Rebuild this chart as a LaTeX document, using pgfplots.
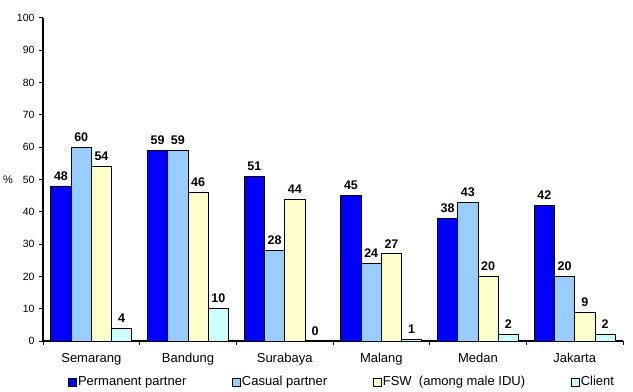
\documentclass[border=0pt]{standalone}
\usepackage{fontspec}
\setmainfont{Liberation Sans}
\usepackage{pgfplots}
\usepackage{pgfplotstable}
\pgfplotsset{compat=1.18}

\definecolor{permblue}{RGB}{0,0,255}
\definecolor{casualblue}{RGB}{153,204,255}
\definecolor{fswyellow}{RGB}{255,255,204}
\definecolor{clientcyan}{RGB}{204,255,255}

% Share of respondents (%) by partner type and city
\pgfplotstableread{
idx perm casual fsw client
0   48   60     54  4
1   59   59     46  10
2   51   28     44  0
3   45   24     27  0.6
4   38   43     20  2
5   42   20     9   2
}\partnerdata

\begin{document}
\begin{tikzpicture}
\begin{axis}[
  scale only axis,
  width=580bp, height=323bp,
  ybar=0pt, bar width=20.25bp,
  xmin=-0.5, xmax=5.5, ymin=0, ymax=100,
  axis x line*=bottom, axis y line*=left,
  axis line style={line width=1.5bp, black},
  tick style={line width=1bp, black},
  tick align=outside, major tick length=4bp,
  ytick={0,10,...,100},
  xtick={-0.5,0.5,...,5.5}, xticklabels={},
  extra x ticks={0,1,2,3,4,5},
  extra x tick labels={Semarang,Bandung,Surabaya,Malang,Medan,Jakarta},
  extra x tick style={tick style={draw=none},
    tick label style={font=\fontsize{13bp}{15bp}\selectfont, yshift=-5bp}},
  /pgf/number format/assume math mode=true,
  yticklabel style={font=\fontsize{10.5bp}{12bp}\selectfont, xshift=-1bp},
  ylabel={\%},
  ylabel style={at={(axis description cs:0,0.5)}, rotate=-90, anchor=center,
    xshift=-35bp, font=\fontsize{11bp}{13bp}\selectfont},
  nodes near coords={\pgfmathprintnumber[fixed,precision=0]{\pgfplotspointmeta}},
  nodes near coords style={font=\bfseries\fontsize{12.5bp}{14bp}\selectfont,
    text=black, yshift=2bp},
  every axis plot/.append style={draw=black, line width=0.7bp},
  legsq/.style={legend image code/.code={
    \draw[##1, line width=0.6bp] (0bp,-4bp) rectangle (8bp,4bp);}},
  legend columns=4,
  legend style={at={(0.515,0)}, anchor=center, yshift=-41bp,
    draw=none, fill=none, font=\fontsize{13bp}{15bp}\selectfont,
    nodes={inner sep=1bp},
    /tikz/every even column/.append style={column sep=45bp}},
]
\addplot[fill=permblue, legsq]   table[x=idx, y=perm]   {\partnerdata};
\addplot[fill=casualblue, legsq] table[x=idx, y=casual] {\partnerdata};
\addplot[fill=fswyellow, legsq]  table[x=idx, y=fsw]    {\partnerdata};
\addplot[fill=clientcyan, legsq] table[x=idx, y=client] {\partnerdata};
\legend{Permanent partner, Casual partner, FSW\ \ (among male IDU), Client}
\end{axis}
\pgfresetboundingbox
\path (current axis.south west) ++(-43bp,-51bp) rectangle ++(633bp,392bp);
\end{tikzpicture}
\end{document}
